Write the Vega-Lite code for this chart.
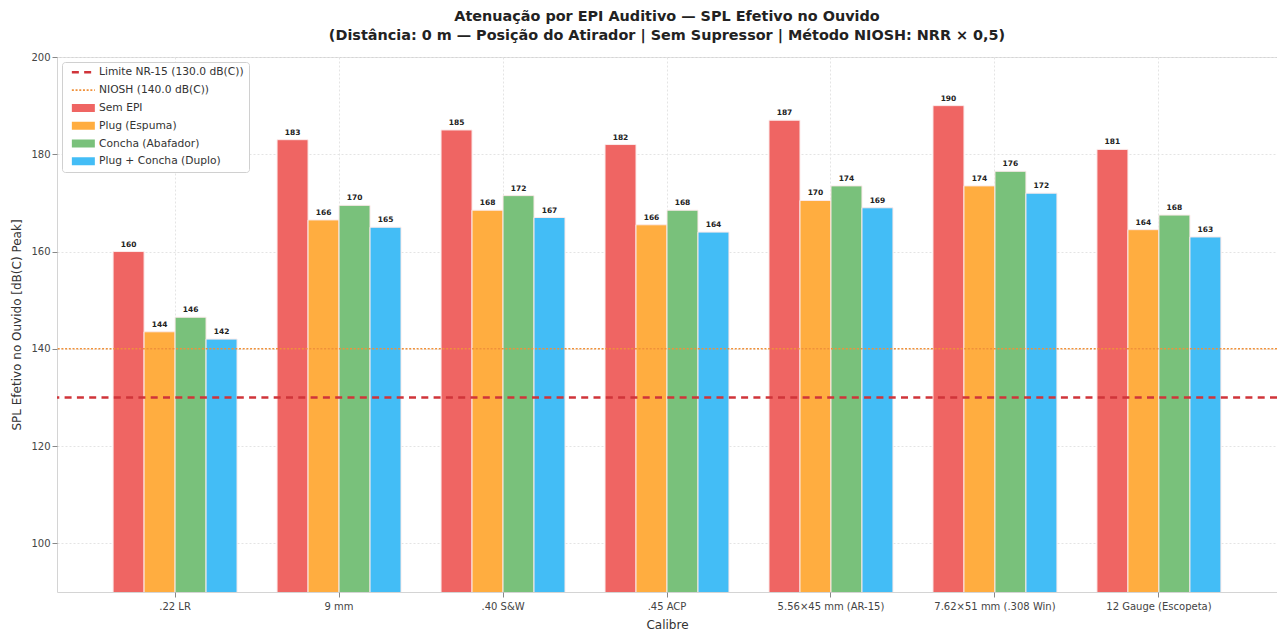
{
  "$schema": "https://vega.github.io/schema/vega-lite/v6.json",
  "width": 1220,
  "height": 535,
  "autosize": {"type": "none"},
  "padding": {"left": 57, "top": 57, "right": 0, "bottom": 41},
  "background": "white",
  "title": {
    "text": ["Atenuação por EPI Auditivo — SPL Efetivo no Ouvido", "(Distância: 0 m — Posição do Atirador | Sem Supressor | Método NIOSH: NRR × 0,5)"],
    "font": "DejaVu Sans",
    "fontSize": 14.4,
    "fontWeight": "bold",
    "color": "#222222",
    "anchor": "middle",
    "offset": 9,
    "lineHeight": 18.5
  },
  "config": {
    "view": {"stroke": "#d4d4d4", "strokeWidth": 1},
    "axis": {
      "labelFont": "DejaVu Sans",
      "titleFont": "DejaVu Sans",
      "labelColor": "#444444",
      "titleColor": "#333333",
      "titleFontWeight": "normal",
      "titleFontSize": 12,
      "labelFontSize": 10,
      "tickColor": "#888888",
      "tickSize": 5,
      "domain": false,
      "gridColor": "#e4e4e4",
      "gridDash": [2, 2],
      "gridWidth": 1
    },
    "legend": {
      "title": null,
      "orient": "top-left",
      "offset": 5,
      "padding": 5,
      "fillColor": "white",
      "strokeColor": "#d0d0d0",
      "cornerRadius": 3,
      "labelFont": "DejaVu Sans",
      "labelFontSize": 10.7,
      "labelColor": "#333333",
      "rowPadding": 5.8,
      "symbolType": "M-1,0H45",
      "symbolSize": 1,
      "labelOffset": 21.3,
      "labelLimit": 300
    }
  },
  "datasets": {
    "barras": [
      {"calibre": ".22 LR", "serie": "Sem EPI", "spl": 160, "rotulo": "160"},
      {"calibre": ".22 LR", "serie": "Plug (Espuma)", "spl": 143.5, "rotulo": "144"},
      {"calibre": ".22 LR", "serie": "Concha (Abafador)", "spl": 146.5, "rotulo": "146"},
      {"calibre": ".22 LR", "serie": "Plug + Concha (Duplo)", "spl": 142, "rotulo": "142"},
      {"calibre": "9 mm", "serie": "Sem EPI", "spl": 183, "rotulo": "183"},
      {"calibre": "9 mm", "serie": "Plug (Espuma)", "spl": 166.5, "rotulo": "166"},
      {"calibre": "9 mm", "serie": "Concha (Abafador)", "spl": 169.5, "rotulo": "170"},
      {"calibre": "9 mm", "serie": "Plug + Concha (Duplo)", "spl": 165, "rotulo": "165"},
      {"calibre": ".40 S&W", "serie": "Sem EPI", "spl": 185, "rotulo": "185"},
      {"calibre": ".40 S&W", "serie": "Plug (Espuma)", "spl": 168.5, "rotulo": "168"},
      {"calibre": ".40 S&W", "serie": "Concha (Abafador)", "spl": 171.5, "rotulo": "172"},
      {"calibre": ".40 S&W", "serie": "Plug + Concha (Duplo)", "spl": 167, "rotulo": "167"},
      {"calibre": ".45 ACP", "serie": "Sem EPI", "spl": 182, "rotulo": "182"},
      {"calibre": ".45 ACP", "serie": "Plug (Espuma)", "spl": 165.5, "rotulo": "166"},
      {"calibre": ".45 ACP", "serie": "Concha (Abafador)", "spl": 168.5, "rotulo": "168"},
      {"calibre": ".45 ACP", "serie": "Plug + Concha (Duplo)", "spl": 164, "rotulo": "164"},
      {"calibre": "5.56×45 mm (AR-15)", "serie": "Sem EPI", "spl": 187, "rotulo": "187"},
      {"calibre": "5.56×45 mm (AR-15)", "serie": "Plug (Espuma)", "spl": 170.5, "rotulo": "170"},
      {"calibre": "5.56×45 mm (AR-15)", "serie": "Concha (Abafador)", "spl": 173.5, "rotulo": "174"},
      {"calibre": "5.56×45 mm (AR-15)", "serie": "Plug + Concha (Duplo)", "spl": 169, "rotulo": "169"},
      {"calibre": "7.62×51 mm (.308 Win)", "serie": "Sem EPI", "spl": 190, "rotulo": "190"},
      {"calibre": "7.62×51 mm (.308 Win)", "serie": "Plug (Espuma)", "spl": 173.5, "rotulo": "174"},
      {"calibre": "7.62×51 mm (.308 Win)", "serie": "Concha (Abafador)", "spl": 176.5, "rotulo": "176"},
      {"calibre": "7.62×51 mm (.308 Win)", "serie": "Plug + Concha (Duplo)", "spl": 172, "rotulo": "172"},
      {"calibre": "12 Gauge (Escopeta)", "serie": "Sem EPI", "spl": 181, "rotulo": "181"},
      {"calibre": "12 Gauge (Escopeta)", "serie": "Plug (Espuma)", "spl": 164.5, "rotulo": "164"},
      {"calibre": "12 Gauge (Escopeta)", "serie": "Concha (Abafador)", "spl": 167.5, "rotulo": "168"},
      {"calibre": "12 Gauge (Escopeta)", "serie": "Plug + Concha (Duplo)", "spl": 163, "rotulo": "163"}
    ],
    "limites": [
      {"serie": "Limite NR-15 (130.0 dB(C))", "valor": 130},
      {"serie": "NIOSH (140.0 dB(C))", "valor": 140}
    ]
  },
  "data": {"name": "barras"},
  "encoding": {
    "x": {
      "field": "calibre",
      "type": "nominal",
      "sort": null,
      "scale": {"paddingInner": 0.244, "paddingOuter": 0.342},
      "axis": {"title": "Calibre", "labelAngle": 0, "labelPadding": 4, "titlePadding": 8, "grid": true, "bandPosition": 0.5}
    },
    "y": {
      "field": "spl",
      "type": "quantitative",
      "scale": {"domain": [90, 200], "nice": false, "zero": false},
      "axis": {"title": "SPL Efetivo no Ouvido [dB(C) Peak]", "values": [100, 120, 140, 160, 180, 200], "labelPadding": 2, "titlePadding": 7, "grid": true}
    },
    "xOffset": {
      "field": "serie",
      "type": "nominal",
      "sort": ["Sem EPI", "Plug (Espuma)", "Concha (Abafador)", "Plug + Concha (Duplo)"],
      "scale": {"domain": ["Sem EPI", "Plug (Espuma)", "Concha (Abafador)", "Plug + Concha (Duplo)"], "paddingInner": 0, "paddingOuter": 0}
    }
  },
  "layer": [
    {
      "mark": {"type": "bar", "stroke": "#fbeaea", "strokeWidth": 1, "clip": true},
      "encoding": {
        "fill": {
          "field": "serie",
          "type": "nominal",
          "scale": {
            "domain": ["Sem EPI", "Plug (Espuma)", "Concha (Abafador)", "Plug + Concha (Duplo)"],
            "range": ["#EF6563", "#FFAD40", "#79C17B", "#43BDF6"]
          },
          "legend": null
        }
      }
    },
    {
      "mark": {"type": "text", "baseline": "bottom", "dy": -3, "font": "DejaVu Sans", "fontSize": 7.5, "fontWeight": "bold", "color": "#222222"},
      "encoding": {"text": {"field": "rotulo"}}
    },
    {
      "data": {"name": "limites"},
      "mark": {"type": "rule"},
      "encoding": {
        "x": null,
        "xOffset": null,
        "y": {"field": "valor", "type": "quantitative"},
        "stroke": {
          "field": "serie",
          "type": "nominal",
          "scale": {
            "domain": ["Limite NR-15 (130.0 dB(C))", "NIOSH (140.0 dB(C))", "Sem EPI", "Plug (Espuma)", "Concha (Abafador)", "Plug + Concha (Duplo)"],
            "range": ["#D0343A", "#F0913A", "#EF6563", "#FFAD40", "#79C17B", "#43BDF6"]
          },
          "legend": {"encode": {"symbols": {"update": {"strokeJoin": {"value": "bevel"}, "fill": {"value": "transparent"}}}}}
        },
        "strokeDash": {
          "field": "serie",
          "type": "nominal",
          "scale": {
            "domain": ["Limite NR-15 (130.0 dB(C))", "NIOSH (140.0 dB(C))", "Sem EPI", "Plug (Espuma)", "Concha (Abafador)", "Plug + Concha (Duplo)"],
            "range": [[7, 5.3], [2, 1.7], [1, 0], [1, 0], [1, 0], [1, 0]]
          }
        },
        "strokeWidth": {
          "field": "serie",
          "type": "ordinal",
          "scale": {
            "type": "ordinal",
            "domain": ["Limite NR-15 (130.0 dB(C))", "NIOSH (140.0 dB(C))", "Sem EPI", "Plug (Espuma)", "Concha (Abafador)", "Plug + Concha (Duplo)"],
            "range": [2.5, 1.6, 8, 8, 8, 8]
          }
        }
      }
    }
  ]
}
